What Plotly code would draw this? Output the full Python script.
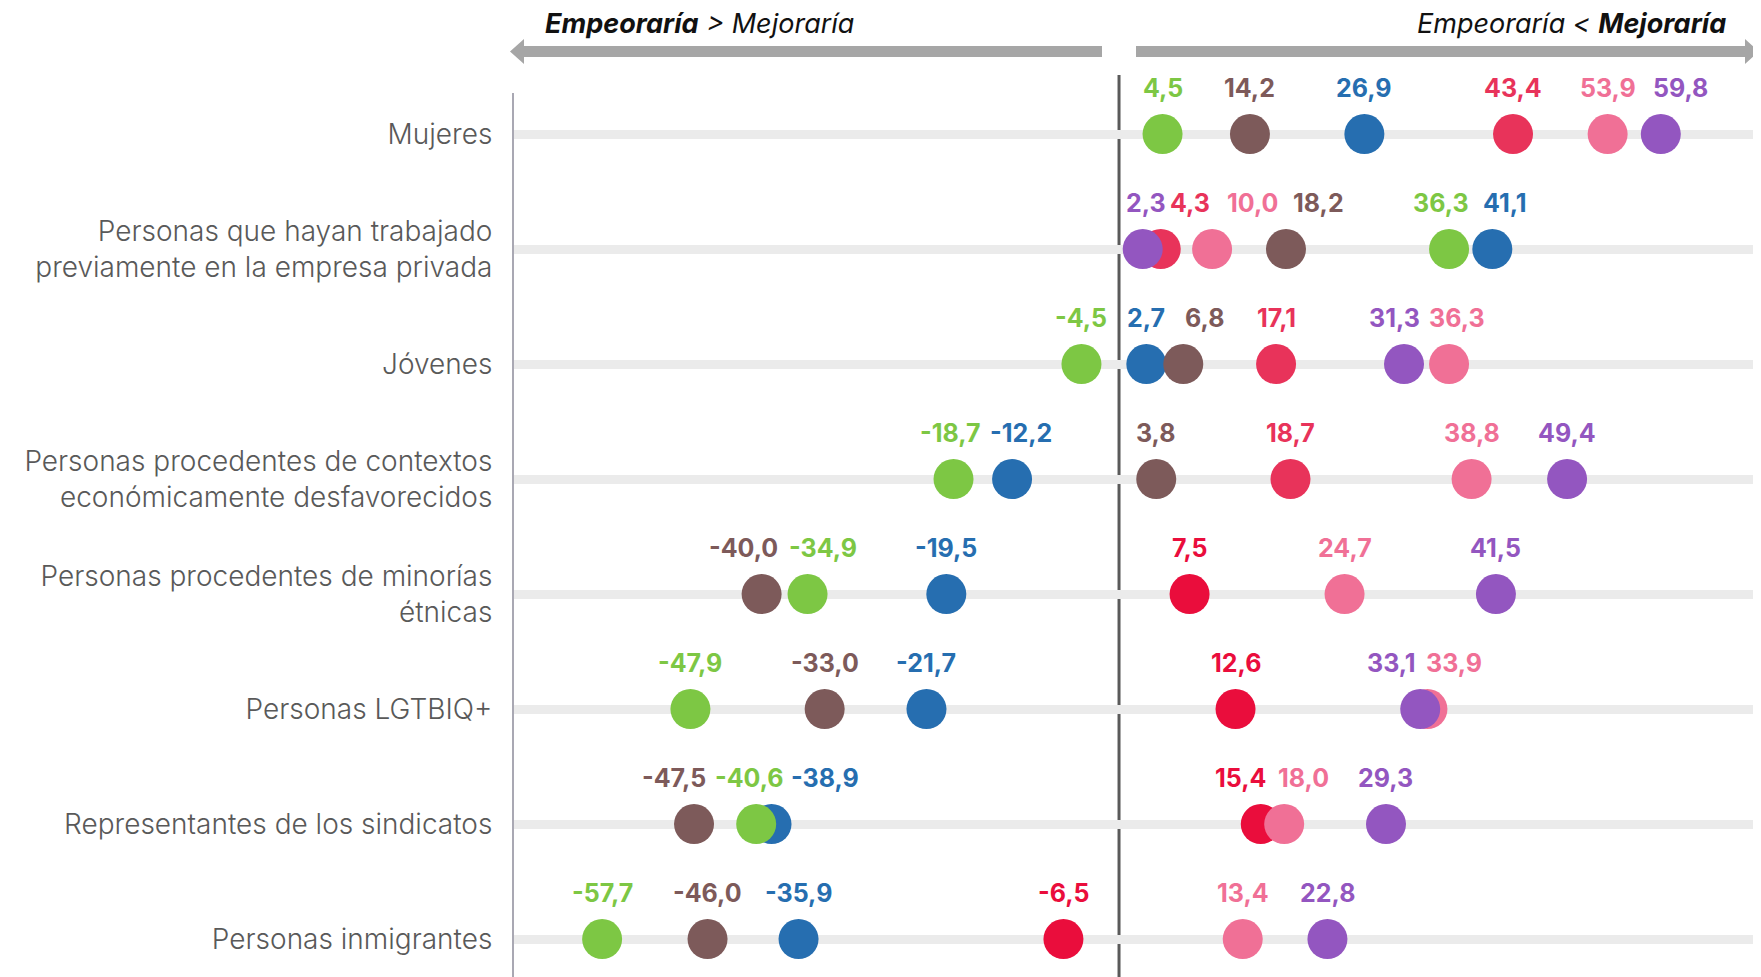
import plotly.graph_objects as go

# ---------------- data ----------------
categories = [
    "Mujeres",
    "Personas que hayan trabajado<br>previamente en la empresa privada",
    "Jóvenes",
    "Personas procedentes de contextos<br>económicamente desfavorecidos",
    "Personas procedentes de minorías<br>étnicas",
    "Personas LGTBIQ+",
    "Representantes de los sindicatos",
    "Personas inmigrantes",
]

green = [4.5, 36.3, -4.5, -18.7, -34.9, -47.9, -40.6, -57.7]
brown = [14.2, 18.2, 6.8, 3.8, -40.0, -33.0, -47.5, -46.0]
blue = [26.9, 41.1, 2.7, -12.2, -19.5, -21.7, -38.9, -35.9]
red = [43.4, 4.3, 17.1, 18.7, 7.5, 12.6, 15.4, -6.5]
pink = [53.9, 10.0, 36.3, 38.8, 24.7, 33.9, 18.0, 13.4]
purple = [59.8, 2.3, 31.3, 49.4, 41.5, 33.1, 29.3, 22.8]

# ---------------- style ----------------
W, H = 1761, 977
OFF = 8  # page body margin
L, R, T, B = 514, 7, 93, 0
FONT = "Inter, 'Open Sans', sans-serif"


def px(x):
    return (x - L) / (W - L - R)


def py(y):
    return (H - B - y) / (H - T - B)


# series drawn in this order (later on top); label nudges in pixels to avoid overlaps
series = [
    ("Serie azul", blue, ["#266EB0"] * 8, [0, 13, 0, 9, 0, 0, 53, 0]),
    ("Serie marrón", brown, ["#7D5A5A"] * 8, [0, 33, 21, 0, -18, 0, -20, 0]),
    ("Serie roja", red, ["#E8335A"] * 4 + ["#EA0D3C"] * 4, [0, 29, 0, 0, 0, 0, -20, 0]),
    ("Serie rosa", pink, ["#F07096"] * 8, [0, 40, 8, 0, 0, 27, 19, 0]),
    ("Serie morada", purple, ["#9356C0"] * 8, [20, 3, -10, 0, 0, -29, 0, 0]),
    ("Serie verde", green, ["#7DC744"] * 8, [0, -8, 0, -4, 15, 0, -7, 0]),
]

rows = list(range(len(categories)))

fig = go.Figure()
annotations = []
for name, vals, cols, nudges in series:
    fig.add_trace(
        go.Scatter(
            x=vals,
            y=rows,
            mode="markers",
            name=name,
            marker=dict(size=40, color=cols, line=dict(width=0)),
            showlegend=False,
            hoverinfo="x+name",
            cliponaxis=False,
        )
    )
    for v, r, c, n in zip(vals, rows, cols, nudges):
        annotations.append(
            dict(
                x=v,
                y=r,
                xref="x",
                yref="y",
                text=f"{v:.1f}".replace(".", ","),
                showarrow=False,
                xanchor="center",
                yanchor="middle",
                xshift=n,
                yshift=46,
                font=dict(family=FONT, size=25, color=c, weight="bold"),
            )
        )

# headers
annotations.append(
    dict(
        x=px(543), y=py(23), xref="paper", yref="paper",
        text="<b><i>Empeoraría</i></b><i> &gt; Mejoraría</i>",
        showarrow=False, xanchor="left", yanchor="middle",
        font=dict(family=FONT, size=27, color="#111111"),
    )
)
annotations.append(
    dict(
        x=px(1728), y=py(23), xref="paper", yref="paper",
        text="<i>Empeoraría &lt; </i><b><i>Mejoraría</i></b>",
        showarrow=False, xanchor="right", yanchor="middle",
        font=dict(family=FONT, size=27, color="#111111"),
    )
)


def path(points):
    return "M " + " L ".join(f"{px(a):.5f},{py(b):.5f}" for a, b in points) + " Z"


shapes = [
    # zero line
    dict(
        type="line", xref="x", yref="paper", x0=-0.33, x1=-0.33, y0=0, y1=py(75),
        line=dict(color="#5A5A5A", width=3), layer="between",
    ),
    # left arrow
    dict(
        type="path", xref="paper", yref="paper",
        path=path([(524, 46), (1102, 46), (1102, 57), (524, 57), (524, 64), (510, 51.5), (524, 39)]),
        fillcolor="#A6A6A6", line=dict(width=0),
    ),
    # right arrow
    dict(
        type="path", xref="paper", yref="paper",
        path=path([(1136, 46), (1745, 46), (1745, 39), (1759, 51.5), (1745, 64), (1745, 57), (1136, 57)]),
        fillcolor="#A6A6A6", line=dict(width=0),
    ),
]

fig.update_layout(
    width=W - OFF,
    height=H - OFF,
    margin=dict(l=L - OFF, r=R, t=T - OFF, b=B, pad=0),
    paper_bgcolor="white",
    plot_bgcolor="white",
    font=dict(family=FONT),
    annotations=annotations,
    shapes=shapes,
    xaxis=dict(
        range=[(514 - 1122) / 9.01, (1754 - 1122) / 9.01],
        showgrid=False, zeroline=False, showticklabels=False, showline=False,
        fixedrange=True,
    ),
    yaxis=dict(
        range=[7.33, -0.357],
        tickmode="array",
        tickvals=rows,
        ticktext=categories,
        ticks="",
        ticklabelstandoff=14,
        tickfont=dict(family=FONT, size=28, color="#595959", weight=300),
        showgrid=True, gridcolor="#EBEBEB", gridwidth=9,
        zeroline=False,
        showline=True, linecolor="#A9A8B3", linewidth=2,
        fixedrange=True,
    ),
)

fig.write_html("out.html")
